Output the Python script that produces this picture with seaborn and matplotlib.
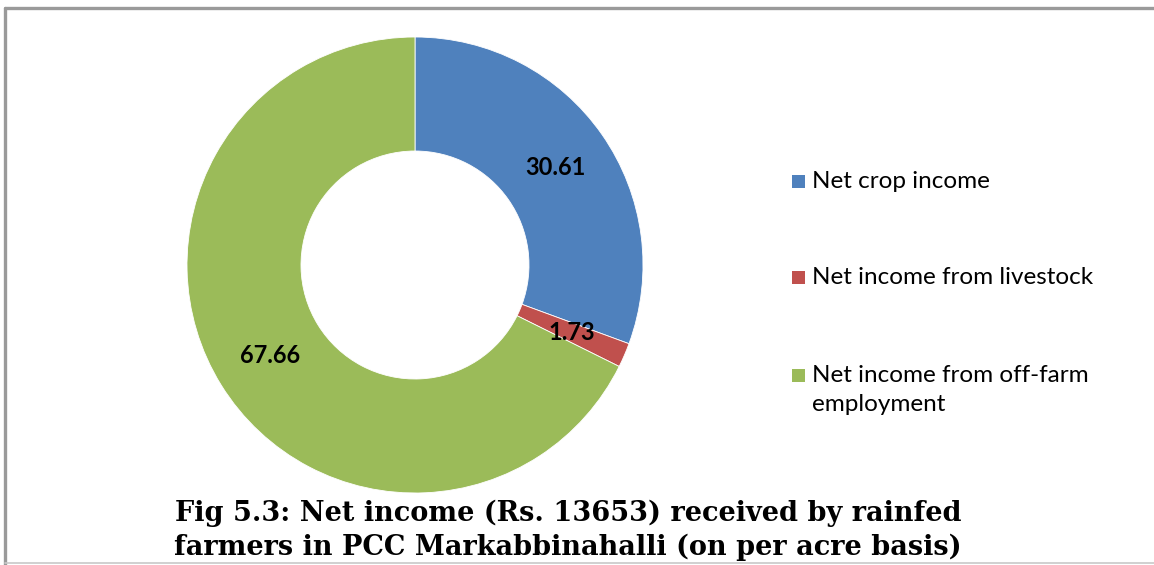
import matplotlib
matplotlib.use("Agg")
import matplotlib.pyplot as plt
import matplotlib.patches as mpatches
from matplotlib.lines import Line2D
import numpy as np
import seaborn as sns

categories = ["Net crop income", "Net income from livestock",
              "Net income from off-farm\nemployment"]
values = [30.61, 1.73, 67.66]
value_labels = ["30.61", "1.73", "67.66"]
colors = ["#4F81BD", "#C0504D", "#9BBB59"]
title_text = ("Fig 5.3: Net income (Rs. 13653) received by rainfed\n"
              "farmers in PCC Markabbinahalli (on per acre basis)")

sns.set_theme(style="white")
plt.rcParams["font.family"] = ["Lato", "DejaVu Sans"]

W, H = 1154, 565
fig = plt.figure(figsize=(W / 100, H / 100), dpi=100)
fig.patch.set_facecolor("white")

def px(x, y):
    return x / W, 1 - y / H

# border lines: top and left darker, bottom light
fig.add_artist(Line2D([5 / W, 1.0], [1 - 8 / H] * 2, transform=fig.transFigure,
                      color="#9a9a9a", linewidth=2.4))
fig.add_artist(Line2D([5 / W] * 2, [1 - 8 / H, 0.0], transform=fig.transFigure,
                      color="#9a9a9a", linewidth=2.4))
fig.add_artist(Line2D([5 / W, 1.0], [1 - 563 / H] * 2, transform=fig.transFigure,
                      color="#c8c8c8", linewidth=1.2))

cx, cy, r = 415, 265, 228
ax = fig.add_axes([(cx - r) / W, 1 - (cy + r) / H, 2 * r / W, 2 * r / H])
wedges, _ = ax.pie(values, colors=colors, startangle=90, counterclock=False,
                   radius=1.0, wedgeprops=dict(width=0.5, edgecolor="white", linewidth=0.6))
ax.set_xlim(-1, 1)
ax.set_ylim(-1, 1)
ax.set_aspect("equal")
ax.axis("off")

total = sum(values)
start = 90.0
for v, lab in zip(values, value_labels):
    mid = start - v / total * 360 / 2
    start -= v / total * 360
    rr = 0.75
    x = rr * np.cos(np.radians(mid))
    y = rr * np.sin(np.radians(mid))
    ax.text(x, y, lab, ha="center", va="center", fontsize=17, fontweight="bold",
            color="black")

# legend (manual, handle aligned with first text line)
leg_rows = [181, 277, 375]
for cat, col, yy in zip(categories, colors, leg_rows):
    fig.add_artist(mpatches.Rectangle(px(792, yy + 6.5), 13 / W, 13 / H,
                                      transform=fig.transFigure, facecolor=col,
                                      edgecolor="none"))
    fig.text(*px(812, yy - 10), cat, ha="left", va="top", fontsize=17.5,
             color="black", linespacing=1.45)

fig.text(*px(568, 530), title_text, ha="center", va="center",
         fontsize=19.5, fontweight="bold", family="DejaVu Serif",
         linespacing=1.3, color="black")

fig.savefig("out.png", dpi=100, facecolor="white")
